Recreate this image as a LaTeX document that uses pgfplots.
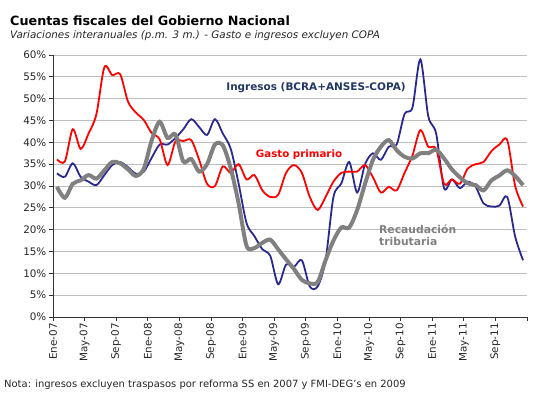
\documentclass[border=0pt]{standalone}
\usepackage{fontspec}
\setmainfont{DejaVu Sans}
\usepackage{pgfplots}
\usepackage{pgfplotstable}
\pgfplotsset{compat=1.18}
\definecolor{ingblue}{RGB}{40,40,145}
\definecolor{gasred}{RGB}{255,0,0}
\definecolor{recgray}{RGB}{128,128,128}
\definecolor{lblblue}{RGB}{35,55,100}
\definecolor{gridgray}{RGB}{190,190,190}

\pgfplotstableread{
x    gasto ingresos recaud
0.5  36.1  32.9  29.8
1.5  35.6  32.1  27.3
2.5  43.0  35.2  30.5
3.5  38.5  32.1  31.3
4.5  42.0  31.0  32.5
5.5  46.5  30.2  31.7
6.5  57.2  32.5  33.6
7.5  55.4  34.8  35.5
8.5  55.6  35.5  35.2
9.5  49.3  34.3  33.8
10.5 46.8  32.8  32.3
11.5 45.1  33.3  34.0
12.5 42.1  36.5  40.5
13.5 40.7  39.5  44.7
14.5 34.8  39.5  41.0
15.5 40.2  41.0  41.8
16.5 40.3  43.0  35.6
17.5 40.5  45.3  36.2
18.5 36.0  43.5  33.3
19.5 30.5  41.7  35.0
20.5 30.0  45.3  39.5
21.5 34.5  42.0  39.3
22.5 33.0  38.5  34.0
23.5 35.0  30.5  26.0
24.5 31.5  21.5  16.3
25.5 32.5  18.5  15.8
26.5 29.0  15.5  17.0
27.5 27.5  14.0  17.7
28.5 28.0  7.5   15.5
29.5 33.0  12.0  13.2
30.5 34.8  11.5  11.0
31.5 33.0  13.0  8.5
32.5 27.5  7.0   7.7
33.5 24.5  7.0   8.0
34.5 27.5  13.0  13.0
35.5 31.0  27.5  17.5
36.5 33.0  30.6  20.5
37.5 33.3  35.5  20.5
38.5 33.3  28.5  24.5
39.5 34.8  35.0  30.5
40.5 32.0  37.5  36.0
41.5 28.5  36.0  39.0
42.5 29.8  39.0  40.5
43.5 29.0  39.5  38.2
44.5 33.0  46.5  36.7
45.5 37.0  48.0  36.3
46.5 42.8  59.0  37.5
47.5 39.0  46.0  37.5
48.5 38.5  42.0  38.3
49.5 30.5  29.5  36.3
50.5 31.5  31.5  33.8
51.5 30.5  29.5  32.0
52.5 34.0  31.0  30.6
53.5 35.0  29.8  30.2
54.5 35.5  26.0  29.0
55.5 38.0  25.3  31.3
56.5 39.5  25.5  32.4
57.5 40.5  27.5  33.6
58.5 30.0  18.4  32.3
59.5 25.3  13.0  30.2
}\datatable

\begin{document}
\begin{tikzpicture}[x=1bp,y=1bp]
\path[use as bounding box] (0,0) rectangle (533,393);
\begin{axis}[
  at={(53bp,76bp)}, anchor=south west,
  scale only axis, width=474bp, height=262bp,
  xmin=0, xmax=60, ymin=0, ymax=60,
  axis x line*=bottom, axis y line*=left,
  axis line style={black!80, line width=0.8pt},
  xtick={0,4,...,60},
  xticklabels={Ene-07,May-07,Sep-07,Ene-08,May-08,Sep-08,Ene-09,May-09,Sep-09,Ene-10,May-10,Sep-10,Ene-11,May-11,Sep-11,{}},
  ytick={0,5,...,60},
  yticklabel={\pgfmathprintnumber{\tick}\%},
  /pgf/number format/assume math mode=true,
  tick align=outside,
  major tick length=4bp,
  tick style={black!80, line width=0.8pt},
  ymajorgrids,
  grid style={gridgray, line width=0.9pt},
  xticklabel style={rotate=90, anchor=east, font=\fontsize{10.4}{11}\selectfont, text=black!85, inner sep=2bp},
  yticklabel style={font=\fontsize{10.4}{11}\selectfont, text=black!85, inner sep=2.5bp},
  clip=false,
]
\addplot[ingblue, line width=1.8pt, smooth, tension=0.5] table[x=x, y=ingresos] {\datatable};
\addplot[gasred, line width=1.8pt, smooth, tension=0.5] table[x=x, y=gasto] {\datatable};
\addplot[recgray, line width=4pt, smooth, tension=0.5] table[x=x, y=recaud] {\datatable};
\end{axis}
\node[anchor=base west, inner sep=0pt, font=\bfseries\fontsize{12.8}{14}\selectfont] at (10,368) {Cuentas fiscales del Gobierno Nacional};
\node[anchor=base west, inner sep=0pt, font=\itshape\fontsize{10.4}{12}\selectfont, text=black!85] at (10,355) {Variaciones interanuales (p.m. 3 m.) - Gasto e ingresos excluyen COPA};
\node[anchor=base west, inner sep=0pt, font=\fontsize{10}{12}\selectfont, text=black!85] at (4,6) {Nota: ingresos excluyen traspasos por reforma SS en 2007 y FMI-DEG's en 2009};
\node[inner sep=0pt, font=\bfseries\fontsize{10.5}{12}\selectfont, text=lblblue] at (316,305) {Ingresos (BCRA+ANSES-COPA)};
\node[inner sep=0pt, font=\bfseries\fontsize{10.3}{12}\selectfont, text=gasred] at (299,238) {Gasto primario};
\node[anchor=west, inner sep=0pt, font=\bfseries\fontsize{10.8}{12}\selectfont, text=recgray, align=left] at (379,158) {Recaudación\\tributaria};
\end{tikzpicture}
\end{document}
